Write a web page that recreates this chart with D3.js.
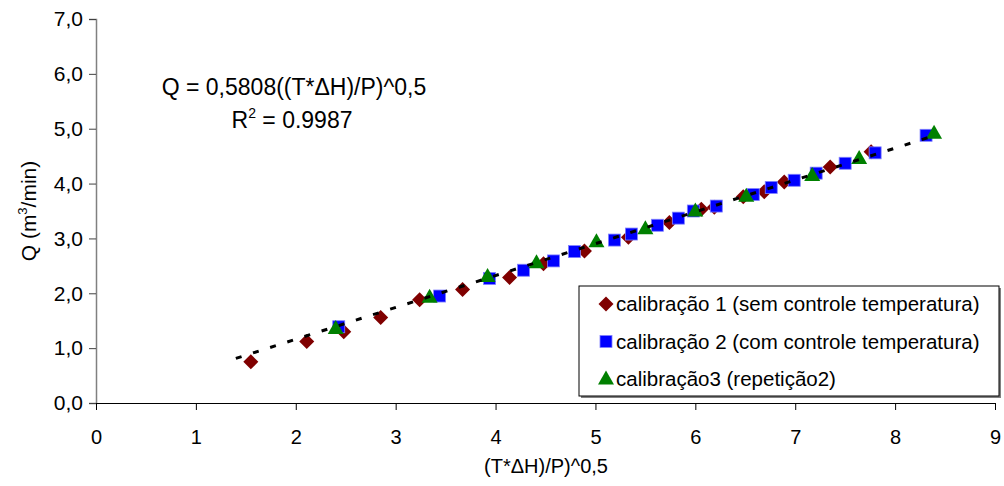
<!DOCTYPE html>
<html>
<head>
<meta charset="utf-8">
<script src="https://cdn.jsdelivr.net/npm/d3@7"></script>
<style>
  body { margin: 0; background: #fff; }
  svg { font-family: "Liberation Sans", Arial, sans-serif; }
</style>
</head>
<body>
<div id="chart"></div>
<script>
// calibração 1 (sem controle temperatura) - [x, Q]
var calib1 = [[1.55,0.75],[2.11,1.12],[2.48,1.30],[2.85,1.56],[3.24,1.88],[3.67,2.07],[4.14,2.29],[4.48,2.54],[4.89,2.77],[5.33,3.02],[5.74,3.29],[6.06,3.53],[6.19,3.57],[6.48,3.76],[6.69,3.85],[6.89,4.03],[7.35,4.30],[7.76,4.58]];
// calibração 2 (com controle temperatura)
var calib2 = [[2.43,1.39],[3.44,1.95],[3.94,2.27],[4.28,2.42],[4.58,2.59],[4.79,2.76],[5.19,2.97],[5.36,3.08],[5.62,3.24],[5.83,3.37],[5.98,3.50],[6.21,3.59],[6.58,3.80],[6.76,3.93],[6.99,4.06],[7.21,4.19],[7.50,4.37],[7.80,4.56],[8.31,4.88]];
// calibração3 (repetição2)
var calib3 = [[2.40,1.36],[3.34,1.93],[3.92,2.31],[4.41,2.56],[5.01,2.94],[5.50,3.18],[6.00,3.50],[6.51,3.77],[7.17,4.15],[7.64,4.46],[8.39,4.92]];

var seriesNames = ['calibração 1 (sem controle temperatura)', 'calibração 2 (com controle temperatura)', 'calibração3 (repetição2)'];
var xTicks = [0, 1, 2, 3, 4, 5, 6, 7, 8, 9];
var yTicks = [0, 1, 2, 3, 4, 5, 6, 7];
var slope = 0.5808;
var trendRange = [1.4, 8.4];

var width = 1004, height = 486;
var svg = d3.select('#chart').append('svg')
  .attr('width', width).attr('height', height);

var x = d3.scaleLinear().domain([0, 9]).range([96, 995]);
var y = d3.scaleLinear().domain([0, 7]).range([403, 19]);
var fmtY = function(d) { return d3.format('.1f')(d).replace('.', ','); };

///////////////////// axes /////////////////////
var yAxis = svg.append('g')
  .attr('transform', 'translate(' + x(0) + ',0)')
  .call(d3.axisLeft(y).tickValues(yTicks).tickFormat(fmtY).tickSize(7).tickPadding(6));
yAxis.select('.domain').attr('stroke', '#808080').attr('stroke-width', 1.5);
yAxis.selectAll('.tick line').attr('stroke', '#404040');
yAxis.selectAll('text').attr('font-size', 21).attr('fill', '#000')
  .attr('font-family', '"Liberation Sans", Arial, sans-serif');

var xAxis = svg.append('g')
  .attr('transform', 'translate(0,' + y(0) + ')')
  .call(d3.axisBottom(x).tickValues(xTicks).tickFormat(d3.format('d')).tickSizeInner(7).tickSizeOuter(0).tickPadding(20));
xAxis.select('.domain').attr('stroke', '#000').attr('stroke-width', 1);
xAxis.selectAll('.tick line').attr('stroke', '#000');
xAxis.selectAll('text').attr('font-size', 20).attr('fill', '#000')
  .attr('font-family', '"Liberation Sans", Arial, sans-serif');

// axis titles
svg.append('text')
  .attr('x', 546).attr('y', 473)
  .attr('text-anchor', 'middle').attr('font-size', 20)
  .text('(T*ΔH)/P)^0,5');

var yTitle = svg.append('text')
  .attr('transform', 'translate(36,' + 211 + ') rotate(-90)')
  .attr('text-anchor', 'middle').attr('font-size', 21);
yTitle.append('tspan').text('Q (m');
yTitle.append('tspan').attr('font-size', 13).attr('dy', -9).text('3');
yTitle.append('tspan').attr('dy', 9).text('/min)');

///////////////////// markers /////////////////////
function diamond(g, cx, cy) {
  var r = 7.5;
  g.append('path')
    .attr('d', 'M' + [cx, cy - r] + 'L' + [cx + r, cy] + 'L' + [cx, cy + r] + 'L' + [cx - r, cy] + 'Z')
    .attr('fill', '#800000');
}
function square(g, cx, cy) {
  var s = 12;
  g.append('rect')
    .attr('x', cx - s / 2).attr('y', cy - s / 2)
    .attr('width', s).attr('height', s)
    .attr('fill', '#0000ff').attr('stroke', '#8080ff').attr('stroke-width', 0.8);
}
function triangle(g, cx, cy) {
  var w = 16, h = 14;
  g.append('path')
    .attr('d', 'M' + [cx, cy - h * 0.6] + 'L' + [cx + w / 2, cy + h * 0.4] + 'L' + [cx - w / 2, cy + h * 0.4] + 'Z')
    .attr('fill', '#008000');
}
var markers = [diamond, square, triangle];

var pts = svg.append('g');
[calib1, calib2, calib3].forEach(function(series, i) {
  series.forEach(function(d) { markers[i](pts, x(d[0]), y(d[1])); });
});

// trendline
svg.append('line')
  .attr('x1', x(trendRange[0])).attr('y1', y(slope * trendRange[0]))
  .attr('x2', x(trendRange[1])).attr('y2', y(slope * trendRange[1]))
  .attr('stroke', '#000').attr('stroke-width', 3)
  .attr('stroke-dasharray', '6,12');

// equation
svg.append('text')
  .attr('x', 294).attr('y', 95)
  .attr('text-anchor', 'middle').attr('font-size', 23)
  .text('Q = 0,5808((T*ΔH)/P)^0,5');
var r2 = svg.append('text')
  .attr('x', 292).attr('y', 128)
  .attr('text-anchor', 'middle').attr('font-size', 23);
r2.append('tspan').text('R');
r2.append('tspan').attr('font-size', 14).attr('dy', -10).text('2');
r2.append('tspan').attr('dy', 10).text(' = 0.9987');

///////////////////// legend /////////////////////
var legend = svg.append('g').attr('transform', 'translate(579,286)');
legend.append('rect')
  .attr('x', 2).attr('y', 2).attr('width', 420).attr('height', 110)
  .attr('fill', '#808080');
legend.append('rect')
  .attr('width', 420).attr('height', 110)
  .attr('fill', '#fff').attr('stroke', '#000').attr('stroke-width', 1);
seriesNames.forEach(function(name, i) {
  var ly = 18 + i * 37.5;
  markers[i](legend, 27, ly);
  legend.append('text')
    .attr('x', 37).attr('y', ly + 7)
    .attr('font-size', 20.5)
    .text(name);
});
</script>
</body>
</html>
